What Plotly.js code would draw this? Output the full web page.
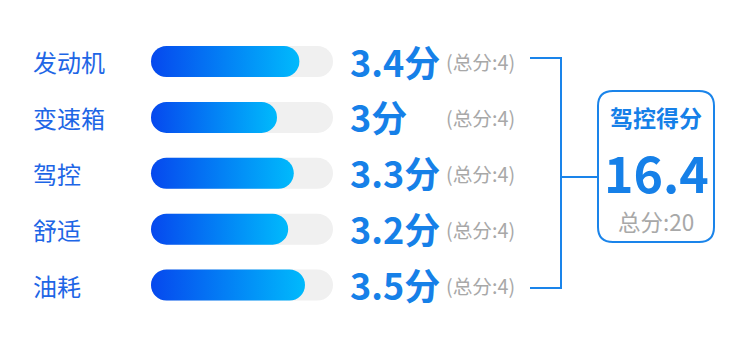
<!DOCTYPE html>
<html>
<head>
<meta charset="utf-8">
<script src="https://cdn.plot.ly/plotly-3.0.1.min.js"></script>
<style>
  html, body { margin: 0; padding: 0; background: #ffffff; }
  #chart { width: 750px; height: 339px; }
</style>
</head>
<body>
<div id="chart"></div>
<script>
// ---- data ----
const categories = ['发动机', '变速箱', '驾控', '舒适', '油耗'];
const values = [3.4, 3, 3.3, 3.2, 3.5];
const totals = [4, 4, 4, 4, 4];
const unitLabel = '分';
const totalLabel = '总分';
const summaryTitle = '驾控得分';

// ---- scale / style ----
const W = 750, H = 339;
const AXIS_MIN = 0.75;            // value where bars start
const BLUE = '#1a84ea';
const VALUE_BLUE = '#1680e8';
const LABEL_BLUE = '#1e66e6';
const GRAY = '#a8a8a8';
const FONT = '"Noto Sans CJK SC", "Noto Sans", sans-serif';

const px = x => x / W;
const py = y => 1 - y / H;

const sum = parseFloat(values.reduce((a, b) => a + b, 0).toFixed(1));
const grand = totals.reduce((a, b) => a + b, 0);

const track = {
  type: 'bar', orientation: 'h',
  y: categories, x: totals.map(t => t - AXIS_MIN), base: AXIS_MIN,
  width: 0.555,
  marker: { color: '#f0f0f0' },
  hoverinfo: 'skip', showlegend: false
};
const fill = {
  type: 'bar', orientation: 'h',
  y: categories, x: values.map(v => v - AXIS_MIN), base: AXIS_MIN,
  width: 0.555,
  marker: { color: '#0a6af4' },
  hoverinfo: 'skip', showlegend: false
};

const annotations = [];
categories.forEach((c, i) => {
  annotations.push({
    text: c, xref: 'paper', yref: 'y', x: px(31), y: c,
    xanchor: 'left', yanchor: 'middle', showarrow: false,
    font: { family: FONT, size: 24, color: LABEL_BLUE }
  });
  annotations.push({
    text: '<b>' + values[i] + unitLabel + '</b>', xref: 'paper', yref: 'y', x: px(348), y: c,
    xanchor: 'left', yanchor: 'middle', yshift: 1, showarrow: false,
    font: { family: FONT, size: 36, color: VALUE_BLUE }
  });
  annotations.push({
    text: '(' + totalLabel + ':' + totals[i] + ')', xref: 'paper', yref: 'y', x: px(444), y: c,
    xanchor: 'left', yanchor: 'middle', showarrow: false,
    font: { family: FONT, size: 19.7, color: GRAY }
  });
});
annotations.push({
  text: '<b>' + summaryTitle + '</b>', xref: 'paper', yref: 'paper', x: px(656), y: py(117),
  xanchor: 'center', yanchor: 'middle', showarrow: false,
  font: { family: FONT, size: 23, color: VALUE_BLUE }
});
annotations.push({
  text: '<b>' + sum + '</b>', xref: 'paper', yref: 'paper', x: px(656), y: py(171),
  xanchor: 'center', yanchor: 'middle', showarrow: false,
  font: { family: FONT, size: 50, color: VALUE_BLUE }
});
annotations.push({
  text: totalLabel + ':' + grand, xref: 'paper', yref: 'paper', x: px(656), y: py(221),
  xanchor: 'center', yanchor: 'middle', showarrow: false,
  font: { family: FONT, size: 22.5, color: GRAY }
});

// rounded box path in paper coords
function roundRect(x0, y0, x1, y1, r) {
  const rx = r / W, ry = r / H;
  const X0 = px(x0), X1 = px(x1), Y0 = py(y0), Y1 = py(y1);
  return `M ${X0 + rx},${Y0} L ${X1 - rx},${Y0} Q ${X1},${Y0} ${X1},${Y0 - ry} ` +
         `L ${X1},${Y1 + ry} Q ${X1},${Y1} ${X1 - rx},${Y1} L ${X0 + rx},${Y1} ` +
         `Q ${X0},${Y1} ${X0},${Y1 + ry} L ${X0},${Y0 - ry} Q ${X0},${Y0} ${X0 + rx},${Y0} Z`;
}

const line = { color: BLUE, width: 2 };
const shapes = [
  { type: 'line', xref: 'paper', yref: 'paper', x0: px(530), x1: px(562), y0: py(58), y1: py(58), line },
  { type: 'line', xref: 'paper', yref: 'paper', x0: px(530), x1: px(562), y0: py(288), y1: py(288), line },
  { type: 'line', xref: 'paper', yref: 'paper', x0: px(561), x1: px(561), y0: py(57), y1: py(289), line },
  { type: 'line', xref: 'paper', yref: 'paper', x0: px(561), x1: px(598), y0: py(177), y1: py(177), line },
  { type: 'path', xref: 'paper', yref: 'paper', path: roundRect(598, 91, 714, 242, 15), line, fillcolor: 'rgba(0,0,0,0)' }
];

const layout = {
  width: W, height: H,
  margin: { l: 0, r: 0, t: 0, b: 0 },
  paper_bgcolor: '#ffffff', plot_bgcolor: '#ffffff',
  barmode: 'overlay',
  showlegend: false,
  xaxis: { range: [-1.946, 11.446], visible: false, fixedrange: true },
  yaxis: { type: 'category', categoryorder: 'array', categoryarray: categories,
           range: [4.966, -1.1007], visible: false, fixedrange: true },
  annotations, shapes,
  hovermode: false
};

Plotly.newPlot('chart', [track, fill], layout, { displayModeBar: false, staticPlot: true }).then(() => {
  const svg = document.querySelector('#chart .main-svg');
  let defs = svg.querySelector('defs');
  const NS = 'http://www.w3.org/2000/svg';
  const grad = document.createElementNS(NS, 'linearGradient');
  grad.setAttribute('id', 'barGrad');
  grad.setAttribute('x1', '0'); grad.setAttribute('y1', '0');
  grad.setAttribute('x2', '1'); grad.setAttribute('y2', '0');
  [['0', '#0648ee'], ['1', '#00bafc']].forEach(([o, c]) => {
    const s = document.createElementNS(NS, 'stop');
    s.setAttribute('offset', o); s.setAttribute('stop-color', c);
    grad.appendChild(s);
  });
  defs.appendChild(grad);

  const traces = document.querySelectorAll('#chart .barlayer .trace');
  traces.forEach((t, ti) => {
    t.querySelectorAll('.point path').forEach(p => {
      const bb = p.getBBox();
      const r = bb.height / 2;
      const x = bb.x, y = bb.y, w = bb.width, h = bb.height;
      p.setAttribute('d', `M${x + r},${y} H${x + w - r} A${r},${r} 0 0 1 ${x + w - r},${y + h} H${x + r} A${r},${r} 0 0 1 ${x + r},${y} Z`);
      if (ti === 1) p.style.fill = 'url(#barGrad)';
    });
  });
});
</script>
</body>
</html>
